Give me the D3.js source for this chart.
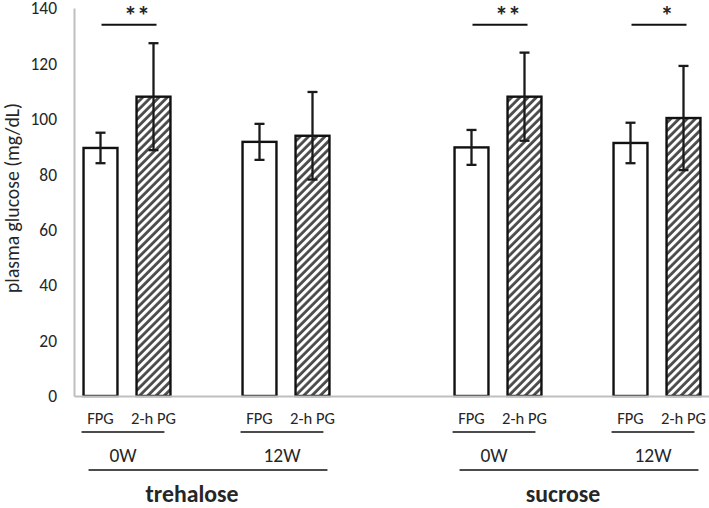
<!DOCTYPE html>
<html><head><meta charset="utf-8">
<script src="https://cdn.jsdelivr.net/npm/d3@7"></script>
<style>
html,body{margin:0;padding:0;background:#fff;}
text{font-family:Carlito,Calibri,Lato,sans-serif;fill:#262626;}
</style></head>
<body><svg id="c" width="709" height="508"></svg>
<script>
// ---- data ----
const categories = ["FPG","2-h PG","","FPG","2-h PG","","","FPG","2-h PG","","FPG","2-h PG"];
const means = [89.5,108,null,91.7,93.9,null,null,89.7,108,null,91.3,100.3];
const sds   = [5.5,19.3,null,6.5,15.8,null,null,6.3,15.9,null,7.3,18.8];
const hatched = [false,true,null,false,true,null,null,false,true,null,false,true];
const yTicks = [0,20,40,60,80,100,120,140];
const weekLabels = ["0W","12W","0W","12W"];
const weekSpans = [[0,1],[3,4],[7,8],[10,11]];
const groupLabels = ["trehalose","sucrose"];
const groupSpans = [[0,4],[7,11]];
const sigLabels = ["**","**","*"];
const sigSpans = [[0,1],[7,8],[10,11]];
const sigLevel = 134;

// ---- layout ----
const svg = d3.select("#c");
const mLeft = 74, mRight = 710, mTop = 8, mBottom = 396;
const x = d3.scaleBand().domain(d3.range(categories.length)).range([mLeft,mRight]).paddingInner(0.36).paddingOuter(0.18);
const y = d3.scaleLinear().domain([0,140]).range([mBottom,mTop]);
const bw = x.bandwidth();

// font size fitting helper: size so that sample text has target width
function fit(sample, target, weight){
  const t = svg.append("text").style("font-size","100px").style("font-weight",weight||"normal").text(sample);
  const w = t.node().getComputedTextLength();
  t.remove();
  return (100*target/w).toFixed(2)+"px";
}
const fsTick = fit("140",26.5);
const fsCat = fit("2-h PG",45);
const fsWeek = fit("12W",37);
const fsGroup = fit("trehalose",93,"bold");
const fsTitle = fit("plasma glucose (mg/dL)",190);

// hatch pattern
const defs = svg.append("defs");
defs.append("pattern").attr("id","hatch").attr("patternUnits","userSpaceOnUse")
  .attr("width",5.8).attr("height",5.8).attr("patternTransform","rotate(45)")
  .call(p=>{
    p.append("rect").attr("width",5.8).attr("height",5.8).attr("fill","#fff");
    p.append("line").attr("x1",1.5).attr("y1",0).attr("x2",1.5).attr("y2",5.8)
     .attr("stroke","#4a4a4a").attr("stroke-width",2.8);
  });

// y axis
const yAxis = d3.axisLeft(y).tickValues(yTicks).tickSize(0).tickPadding(17);
const gy = svg.append("g").attr("transform",`translate(${mLeft},0)`).call(yAxis);
gy.select(".domain").attr("stroke","#bfbfbf").attr("stroke-width",2);
gy.selectAll("text").style("font-size",fsTick).attr("fill","#404040").attr("dy","0.33em");

// y title
svg.append("text").attr("transform",`translate(12,198) rotate(-90)`)
  .attr("text-anchor","middle").attr("dy","0.35em").style("font-size",fsTitle)
  .text("plasma glucose (mg/dL)");

// bars
const idx = d3.range(categories.length).filter(i=>means[i]!=null);
svg.append("g").selectAll("rect").data(idx).join("rect")
  .attr("x",i=>x(i)).attr("y",i=>y(means[i])).attr("width",bw)
  .attr("height",i=>y(0)-y(means[i]))
  .attr("fill",i=>hatched[i]?"url(#hatch)":"#fff")
  .attr("stroke","#111").attr("stroke-width",2.4);

// x axis (baseline + category labels)
const xAxis = d3.axisBottom(x).tickSize(0).tickPadding(16).tickFormat(i=>categories[i]);
const gx = svg.append("g").attr("transform",`translate(0,${mBottom})`).call(xAxis);
gx.select(".domain").attr("stroke","#bfbfbf").attr("stroke-width",2);
gx.selectAll("text").style("font-size",fsCat).attr("fill","#404040");

// error bars
const eb = svg.append("g").attr("stroke","#1a1a1a").attr("stroke-width",2.3).attr("fill","none");
idx.forEach(i=>{
  const cx = x(i)+bw/2;
  eb.append("line").attr("x1",cx).attr("x2",cx).attr("y1",y(means[i]-sds[i])).attr("y2",y(means[i]+sds[i]));
  [means[i]-sds[i],means[i]+sds[i]].forEach(v=>{
    eb.append("line").attr("x1",cx-5).attr("x2",cx+5).attr("y1",y(v)).attr("y2",y(v));
  });
});

// week labels
weekSpans.forEach((s,k)=>{
  const x1 = x(s[0])-2, x2 = x(s[1])+bw-6;
  svg.append("line").attr("x1",x1).attr("x2",x2).attr("y1",432).attr("y2",432).attr("stroke","#111").attr("stroke-width",1.6);
  svg.append("text").attr("x",(x1+x2)/2).attr("y",461.5).attr("text-anchor","middle")
    .style("font-size",fsWeek).attr("fill","#111").text(weekLabels[k]);
});

// group labels
groupSpans.forEach((s,k)=>{
  const x1 = x(s[0])+5, x2 = x(s[1])+bw-2;
  svg.append("line").attr("x1",x1).attr("x2",x2).attr("y1",470).attr("y2",470).attr("stroke","#111").attr("stroke-width",1.6);
  svg.append("text").attr("x",(x1+x2)/2-16).attr("y",502).attr("text-anchor","middle")
    .style("font-size",fsGroup).style("font-weight","bold").attr("fill","#111").text(groupLabels[k]);
});

// significance
sigSpans.forEach((s,k)=>{
  const x1 = x(s[0])+bw/2+1, x2 = x(s[1])+bw/2+3;
  svg.append("line").attr("x1",x1).attr("x2",x2).attr("y1",y(sigLevel)).attr("y2",y(sigLevel)).attr("stroke","#111").attr("stroke-width",2);
  svg.append("text").attr("x",(x1+x2)/2+8).attr("y",25).attr("text-anchor","middle")
    .style("font-size","26px").style("font-weight","bold").attr("fill","#111").text(sigLabels[k]);
});
</script></body></html>
